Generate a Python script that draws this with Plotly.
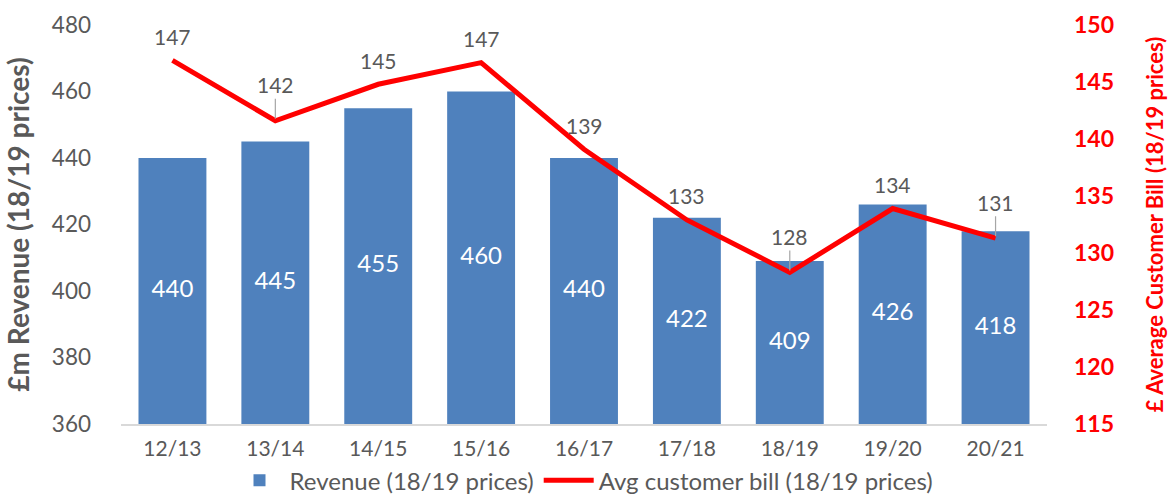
import plotly.graph_objects as go

years = ["12/13", "13/14", "14/15", "15/16", "16/17", "17/18", "18/19", "19/20", "20/21"]
revenue = [440, 445, 455, 460, 440, 422, 409, 426, 418]
avg_bill = [146.9, 141.6, 144.8, 146.7, 139.1, 132.9, 128.3, 133.9, 131.3]
bill_labels = ["147", "142", "145", "147", "139", "133", "128", "134", "131"]

FONT = "Lato"
GRAY = "#595959"
RED = "#FF0000"
BLUE = "#4F81BD"
Y1_RANGE = [360, 480]
Y2_RANGE = [115, 150]

fig = go.Figure()
fig.add_trace(go.Bar(
    x=years, y=revenue, name="Revenue (18/19 prices)",
    marker=dict(color=BLUE, line=dict(width=0)),
))
# value labels centred in the visible part of each bar
fig.add_trace(go.Scatter(
    x=years, y=[(Y1_RANGE[0] + v) / 2 for v in revenue], mode="text",
    text=[str(v) for v in revenue], showlegend=False, hoverinfo="skip",
    textfont=dict(color="white", size=24, family=FONT),
))
fig.add_trace(go.Scatter(
    x=years, y=avg_bill, name="Avg customer bill (18/19 prices)", yaxis="y2",
    mode="lines", line=dict(color=RED, width=5),
))

leader = {"13/14", "18/19", "20/21"}
for x, y, lab in zip(years, avg_bill, bill_labels):
    if x in leader:
        fig.add_annotation(x=x, y=y, yref="y2", text=lab, showarrow=True,
                           arrowhead=0, arrowwidth=1.2, arrowcolor="#A6A6A6",
                           ax=0, ay=-36, standoff=2,
                           font=dict(size=21, color=GRAY, family=FONT))
    else:
        fig.add_annotation(x=x, y=y, yref="y2", text=lab, showarrow=False,
                           yshift=24, font=dict(size=21, color=GRAY, family=FONT))

fig.update_layout(
    width=1173, height=495,
    margin=dict(l=121, r=126, t=25, b=71, autoexpand=False),
    plot_bgcolor="white", paper_bgcolor="white",
    font=dict(family=FONT, color=GRAY),
    bargap=0.34,
    showlegend=True,
    legend=dict(orientation="h", x=0.5, xanchor="center", y=-0.142, yanchor="middle",
                bgcolor="rgba(0,0,0,0)",
                font=dict(size=24, color=GRAY, family=FONT), itemwidth=50,
                traceorder="normal"),
    xaxis=dict(showline=True, linecolor="#D9D9D9", linewidth=2, ticks="",
               ticklabelstandoff=5,
               tickfont=dict(size=21, color=GRAY, family=FONT), showgrid=False),
    yaxis=dict(range=Y1_RANGE, dtick=20, showgrid=False, zeroline=False,
               ticklabelstandoff=29,
               tickfont=dict(size=22.5, color=GRAY, family=FONT),
               title=dict(text="<b>£m Revenue (18/19 prices)</b>", standoff=14,
                          font=dict(size=28, color=GRAY, family=FONT))),
    yaxis2=dict(range=Y2_RANGE, dtick=5, overlaying="y", side="right",
                showgrid=False, zeroline=False, ticklabelstandoff=26,
                tickfont=dict(size=23, color=RED, family=FONT),
                tickprefix="<b>", ticksuffix="</b>",
                title=dict(text="<b>£ Average Customer Bill (18/19 prices)</b>", standoff=34,
                           font=dict(size=22, color=RED, family=FONT))),
)

fig.write_html("out.html", config={"displayModeBar": False},
               post_script="document.body.style.margin='0';document.body.style.overflow='hidden';")
